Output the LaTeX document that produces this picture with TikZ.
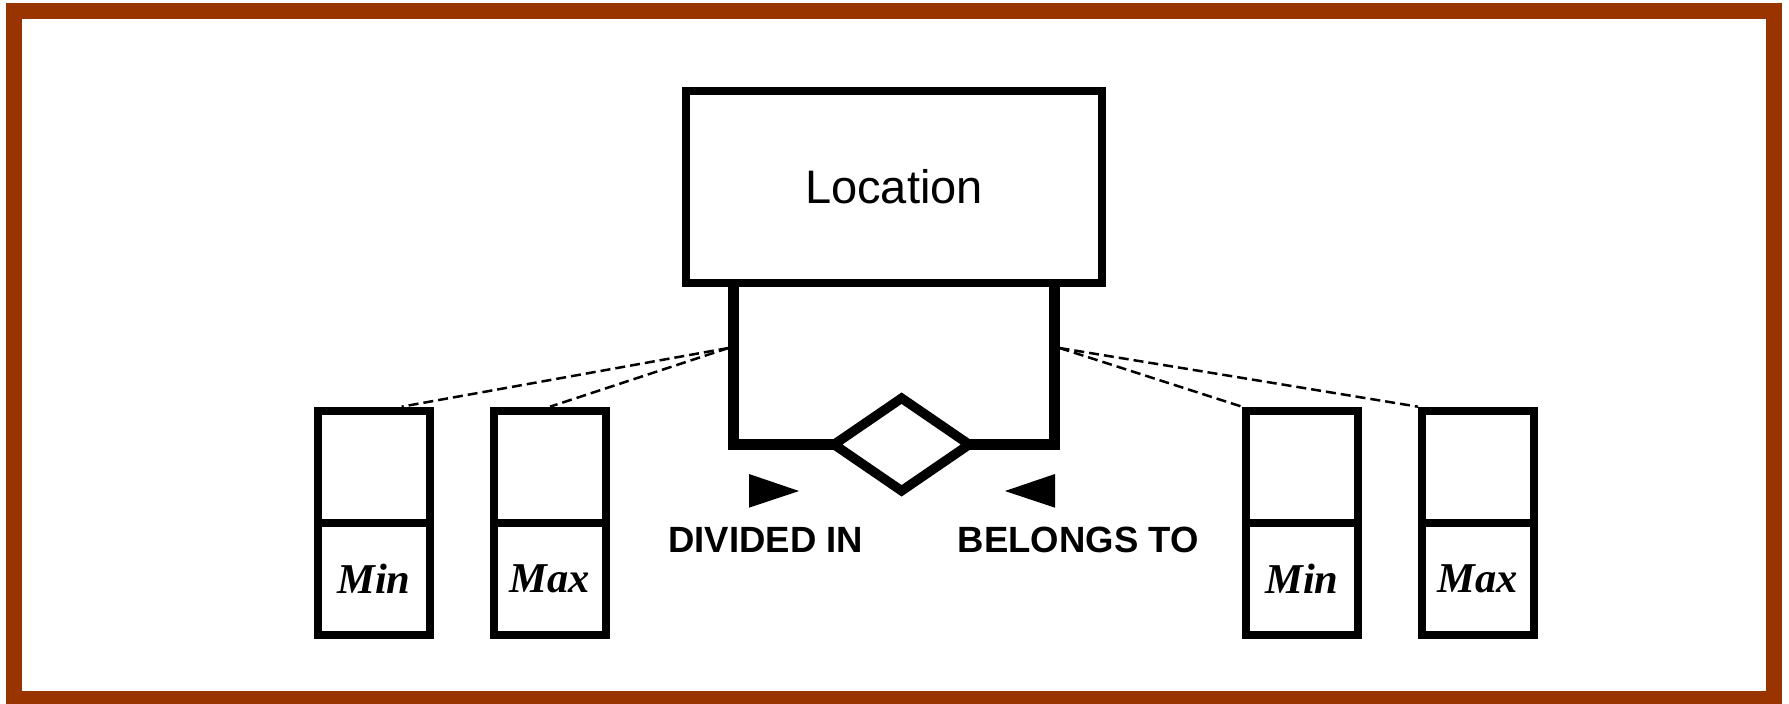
\documentclass[tikz,border=0pt]{standalone}
\usepackage{fontspec}
\setmainfont{Liberation Sans}
\newfontfamily\serifbi{Liberation Serif}
\usetikzlibrary{calc}
\definecolor{rust}{RGB}{153,51,0}
\begin{document}
\begin{tikzpicture}[x=1pt,y=-1pt,
  frame/.style={draw=rust,line width=16pt},
  entity/.style={draw,line width=8pt,minimum width=416pt,minimum height=192.3pt,inner sep=0pt,
    font=\fontsize{47}{56}\selectfont},
  cell/.style={draw,line width=8pt,minimum width=112pt,minimum height=112pt,inner sep=0pt,
    font=\serifbi\bfseries\itshape\fontsize{42.5}{50}\selectfont},
  rel/.style={draw,line width=9.5pt,line join=miter,fill=white},
  bracket/.style={line width=11pt},
  dashline/.style={line width=2.5pt,dash pattern=on 10pt off 5pt},
  lbl/.style={anchor=base,inner sep=0pt,font=\bfseries\fontsize{36.5}{44}\selectfont},
  tri/.style={fill=black}]
\useasboundingbox (0,0) rectangle (1789,704);
\draw[frame] (14,11) rectangle (1774,699);
% entity
\node[entity] (loc) at (894,186.85) {Location};
% relationship (diamond)
\coordinate (dw) at (834,444.5);
\coordinate (de) at (969.2,444.5);
\coordinate (dn) at (901.6,398.2);
\coordinate (ds) at (901.6,490.8);
\coordinate (bl) at (733.7,283);
\coordinate (br) at (1054.3,283);
\draw[bracket] (bl) |- (dw);
\draw[bracket] (br) |- (de);
\draw[rel] (dw) -- (dn) -- (de) -- (ds) -- cycle;
% direction triangles
\fill[tri] (749,474) -- (749,507.7) -- (799,491) -- cycle;
\fill[tri] (1055,474) -- (1055,507.7) -- (1005,491) -- cycle;
% labels
\node[lbl] (div) at (765.8,552.5) {DIVIDED IN};
\node[lbl] (bel) at (1078.3,552.5) {BELONGS TO};
% attribute boxes
\node[cell] (b1a) at (374,466.7) {};
\node[cell] (b1b) at (374,578.7) {Min};
\node[cell] (b2a) at (550,466.7) {};
\node[cell] (b2b) at (550,578.7) {Max};
\node[cell] (b3a) at (1302,466.7) {};
\node[cell] (b3b) at (1302,578.7) {Min};
\node[cell] (b4a) at (1478,466.7) {};
\node[cell] (b4b) at (1478,578.7) {Max};
% dashed links
\coordinate (dl) at (728.5,348);
\coordinate (dr) at (1059.5,348);
\draw[dashline] (dl) -- ($(b1a.north west)!0.73!(b1a.north east)$);
\draw[dashline] (dl) -- (b2a.north);
\draw[dashline] (dr) -- (b3a.north west);
\draw[dashline] (dr) -- (b4a.north west);
\end{tikzpicture}
\end{document}
